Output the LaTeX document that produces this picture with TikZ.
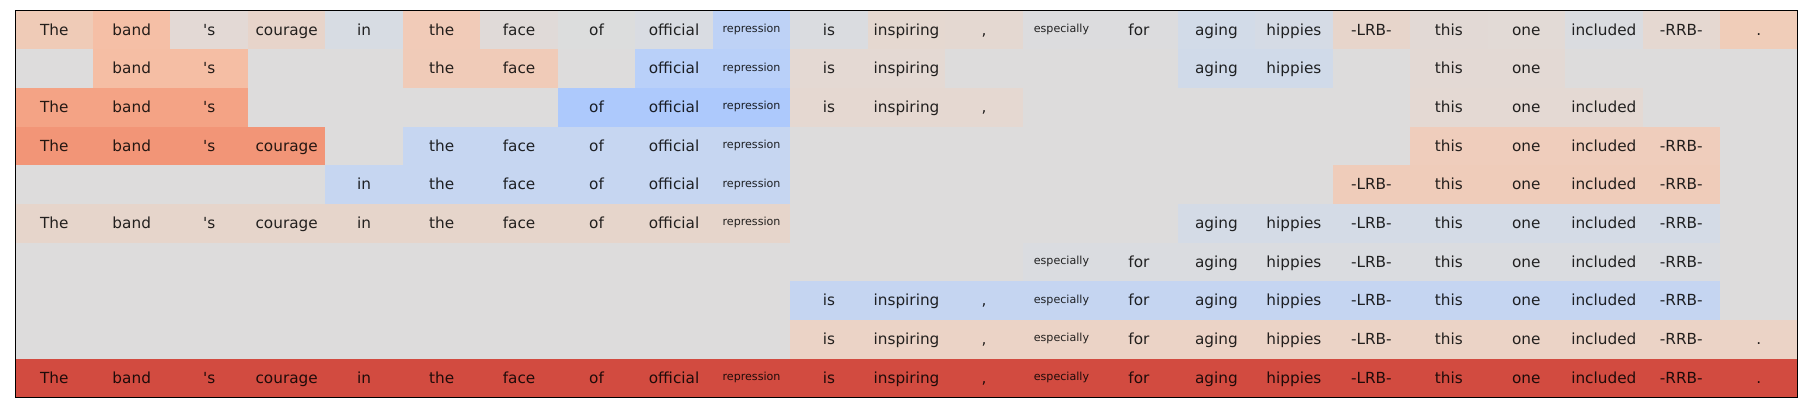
\documentclass[tikz,border=0pt]{standalone}
\usepackage{fontspec}
\setmainfont{DejaVu Sans}[Ligatures=TeXOff]
\newcommand\bigf{\fontsize{15.28}{18}\selectfont}
\newcommand\smf{\fontsize{11.11}{13}\selectfont}
\expandafter\def\csname wd0\endcsname{The}
\expandafter\def\csname wd1\endcsname{band}
\expandafter\def\csname wd2\endcsname{'s}
\expandafter\def\csname wd3\endcsname{courage}
\expandafter\def\csname wd4\endcsname{in}
\expandafter\def\csname wd5\endcsname{the}
\expandafter\def\csname wd6\endcsname{face}
\expandafter\def\csname wd7\endcsname{of}
\expandafter\def\csname wd8\endcsname{official}
\expandafter\def\csname wd9\endcsname{\raisebox{2.5pt}{\smf repression}}
\expandafter\def\csname wd10\endcsname{is}
\expandafter\def\csname wd11\endcsname{inspiring}
\expandafter\def\csname wd12\endcsname{,}
\expandafter\def\csname wd13\endcsname{\raisebox{2.5pt}{\smf especially}}
\expandafter\def\csname wd14\endcsname{for}
\expandafter\def\csname wd15\endcsname{aging}
\expandafter\def\csname wd16\endcsname{hippies}
\expandafter\def\csname wd17\endcsname{-LRB-}
\expandafter\def\csname wd18\endcsname{this}
\expandafter\def\csname wd19\endcsname{one}
\expandafter\def\csname wd20\endcsname{included}
\expandafter\def\csname wd21\endcsname{-RRB-}
\expandafter\def\csname wd22\endcsname{.}
\def\X{15.5}\def\W{77.478}\def\Y{10.7}\def\H{38.66}
\newcommand\seg[4]{%
  \definecolor{segc}{HTML}{#4}%
  \fill[segc] ({\X+#2*\W},{-\Y-#1*\H}) rectangle ({\X+(#3+1)*\W},{-\Y-(#1+1)*\H});
  \foreach \c in {#2,...,#3}{%
    \node[word] (t-#1-\c) at ({\X+(\c+0.5)*\W},{-\Y-(#1+0.5)*\H-5.1}) {\csname wd\c\endcsname};
  }}
\definecolor{bg}{HTML}{DDDCDC}
\begin{document}
\begin{tikzpicture}[x=1pt,y=1pt,
  word/.style={anchor=base,inner sep=0pt,font=\bigf,text=black,text opacity=0.85}]
\useasboundingbox (0,0) rectangle (1807,-412);
\fill[bg] (\X,-\Y) rectangle ({\X+23*\W},{-\Y-10*\H});
% row 0
\seg{0}{0}{0}{EFCBB7}
\seg{0}{1}{1}{F5BFA6}
\seg{0}{2}{2}{E3D9D5}
\seg{0}{3}{3}{E7D4CA}
\seg{0}{4}{4}{D7DCE3}
\seg{0}{5}{5}{F1CBB8}
\seg{0}{6}{6}{E0DAD8}
\seg{0}{7}{7}{DCDDDD}
\seg{0}{8}{8}{D9DCE2}
\seg{0}{9}{9}{BED2F6}
\seg{0}{10}{10}{DADCE0}
\seg{0}{11}{11}{E5D8D0}
\seg{0}{12}{12}{E4D8D1}
\seg{0}{13}{13}{DCDCDE}
\seg{0}{14}{14}{DCDCDE}
\seg{0}{15}{15}{D2DBE8}
\seg{0}{16}{16}{D5DBE5}
\seg{0}{17}{17}{E7D5CB}
\seg{0}{18}{18}{E2D9D5}
\seg{0}{19}{19}{E2DAD6}
\seg{0}{20}{20}{DADCE0}
\seg{0}{21}{21}{E5D8D1}
\seg{0}{22}{22}{F0CDB9}
% row 1
\seg{1}{1}{2}{F5BEA4}
\seg{1}{5}{6}{F0CBB8}
\seg{1}{8}{9}{B9D0F9}
\seg{1}{10}{11}{E4D9D3}
\seg{1}{15}{16}{D0DAE9}
\seg{1}{18}{19}{E3D9D4}
% row 2
\seg{2}{0}{2}{F4A385}
\seg{2}{7}{9}{ADC9FC}
\seg{2}{10}{12}{E5D8D1}
\seg{2}{18}{20}{E4D9D3}
% row 3
\seg{3}{0}{3}{F29577}
\seg{3}{5}{9}{C6D6F1}
\seg{3}{18}{21}{EFCDBC}
% row 4
\seg{4}{4}{9}{C6D6F1}
\seg{4}{17}{21}{EFCCBA}
% row 5
\seg{5}{0}{9}{E6D5CB}
\seg{5}{15}{21}{D4DBE6}
% row 6
\seg{6}{13}{21}{DADCE0}
% row 7
\seg{7}{10}{21}{C5D5F1}
% row 8
\seg{8}{10}{22}{EBD3C6}
% row 9
\seg{9}{0}{22}{D24B40}
\draw[line width=1pt] (\X,-\Y) rectangle ({\X+23*\W},{-\Y-10*\H});
\end{tikzpicture}
\end{document}
